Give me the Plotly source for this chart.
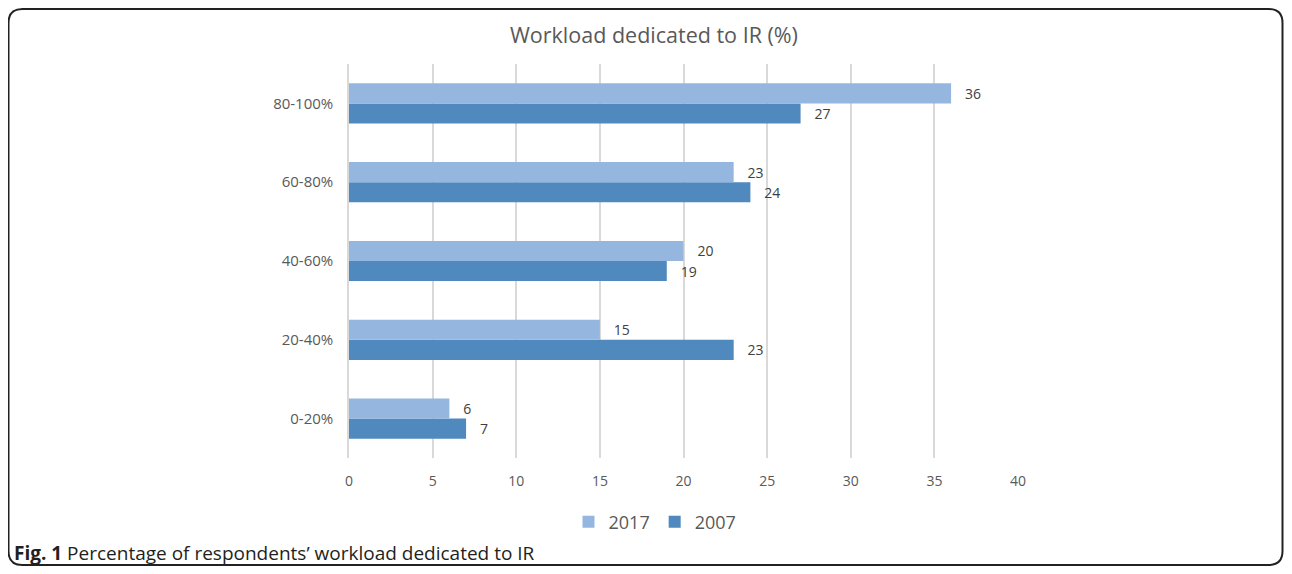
import plotly.graph_objects as go

categories = ["0-20%", "20-40%", "40-60%", "60-80%", "80-100%"]
values_2017 = [6, 15, 20, 23, 36]
values_2007 = [7, 23, 19, 24, 27]
x_ticks = [0, 5, 10, 15, 20, 25, 30, 35, 40]

OFF = 8  # page body margin
W, H = 1292 - 2 * OFF, 574 - 2 * OFF
L, R, T, B = 349 - OFF, 1018 - OFF, 64 - OFF, 458 - OFF

def px_x(p):
    return (p - OFF - L) / (R - L)

def px_y(p):
    return (B - (p - OFF)) / (B - T)

FONT = "Open Sans"
TXT = "#595959"

fig = go.Figure()
fig.add_trace(go.Bar(
    y=categories, x=values_2007, name="2007", orientation="h",
    marker=dict(color="#4F89BD", line=dict(width=0)),
    text=values_2007, texttemplate="   %{x}", textposition="outside",
    textfont=dict(size=14, color="#404040", family=FONT),
    cliponaxis=False,
))
fig.add_trace(go.Bar(
    y=categories, x=values_2017, name="2017", orientation="h",
    marker=dict(color="#95B7DF", line=dict(width=0)),
    text=values_2017, texttemplate="   %{x}", textposition="outside",
    textfont=dict(size=14, color="#404040", family=FONT),
    cliponaxis=False,
))

# rounded border
x0, x1 = px_x(8.5), px_x(1282.5)
y0, y1 = px_y(565), px_y(9)
rx, ry = 14 / (R - L), 14 / (B - T)
path = (f"M {x0+rx},{y1} L {x1-rx},{y1} Q {x1},{y1} {x1},{y1-ry} "
        f"L {x1},{y0+ry} Q {x1},{y0} {x1-rx},{y0} "
        f"L {x0+rx},{y0} Q {x0},{y0} {x0},{y0+ry} "
        f"L {x0},{y1-ry} Q {x0},{y1} {x0+rx},{y1} Z")
fig.add_shape(type="path", path=path, xref="paper", yref="paper",
              line=dict(color="#222222", width=2), layer="below")

fig.add_annotation(text="Workload dedicated to IR (%)", xref="paper", yref="paper",
                   x=px_x(654), y=px_y(34), xanchor="center", yanchor="middle",
                   showarrow=False, font=dict(size=21.5, color=TXT, family=FONT))
fig.add_annotation(text="<b>Fig. 1</b> Percentage of respondents\u2019 workload dedicated to IR",
                   xref="paper", yref="paper", x=px_x(12), y=px_y(553),
                   xanchor="left", yanchor="middle", showarrow=False,
                   font=dict(size=19, color="#231F20", family=FONT))

fig.update_layout(
    width=W, height=H,
    margin=dict(l=L, r=W - R, t=T, b=H - B, pad=0),
    paper_bgcolor="white", plot_bgcolor="white",
    barmode="group", bargap=0.49, bargroupgap=0,
    font=dict(family=FONT, color=TXT),
    showlegend=True,
    legend=dict(orientation="h", traceorder="reversed",
                x=px_x(655), y=px_y(522), xanchor="center", yanchor="middle",
                font=dict(size=18, color=TXT, family=FONT),
                itemwidth=30),
    xaxis=dict(range=[0, 40], tickvals=x_ticks, showgrid=True,
               gridcolor="#D9D9D9", gridwidth=1.5, zeroline=False,
               showline=False, ticks="outside", ticklen=10, tickcolor="rgba(0,0,0,0)",
               tickfont=dict(size=14, color=TXT, family=FONT)),
    yaxis=dict(categoryorder="array", categoryarray=categories,
               range=[-0.5, 4.5], showgrid=False, zeroline=False,
               showline=True, linecolor="#D9D9D9", linewidth=1.5,
               ticks="outside", ticklen=11, tickcolor="rgba(0,0,0,0)",
               tickfont=dict(size=15, color=TXT, family=FONT)),
)

fig.write_html("out.html")
